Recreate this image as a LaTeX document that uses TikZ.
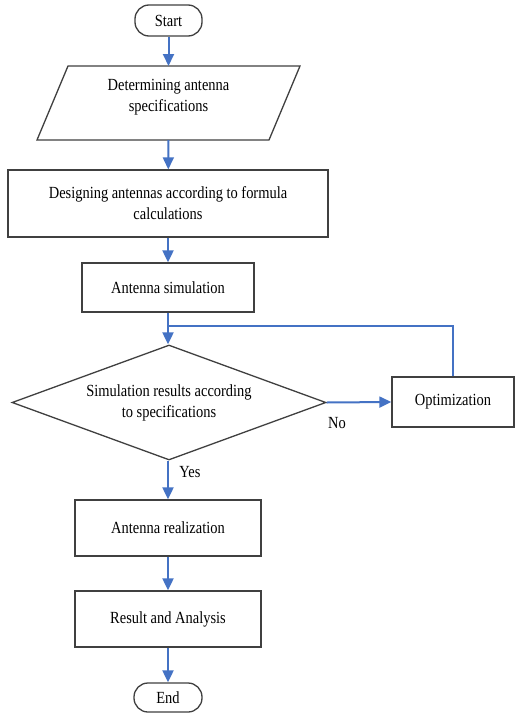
\documentclass[tikz,border=0pt]{standalone}
\usepackage{fontspec}
\setmainfont[FakeStretch=0.85]{Liberation Serif}
\usetikzlibrary{shapes.geometric,arrows.meta,positioning}
\definecolor{flowblue}{RGB}{68,114,196}
\definecolor{boxgray}{RGB}{64,64,64}
\begin{document}
\begin{tikzpicture}[x=1pt,y=-1pt,
  every node/.style={font=\fontsize{17}{21}\selectfont, text=black},
  procbox/.style={draw=boxgray, line width=1.3pt, rectangle, inner sep=0pt, align=center},
  termbox/.style={draw=boxgray, line width=1.3pt, rectangle, rounded corners=14pt, inner sep=0pt},
  flow/.style={draw=flowblue, line width=2pt, -{Triangle[length=12pt,width=11pt]}},
  flowline/.style={draw=flowblue, line width=2pt},
  lbl/.style={inner sep=0pt}
]
\useasboundingbox (0,0) rectangle (515,715);
\fill[white] (0,0) rectangle (515,715);

\node[termbox, minimum width=67pt, minimum height=31pt] (start) at (168.5,20.5) {Start};
\node[inner sep=0pt, minimum width=263pt, minimum height=74pt, align=center] (spec) at (168.5,97) {Determining antenna\\specifications};
\coordinate (specc) at (168.5,103);
\draw[boxgray, line width=1.3pt] (68,66) -- (300,66) -- (269,140) -- (37,140) -- cycle;
\coordinate (spectop) at (168.5,66);
\coordinate (specbot) at (168.5,140);
\node[procbox, minimum width=320pt, minimum height=67pt] (design) at (168,203.5) {Designing antennas according to formula\\calculations};
\node[procbox, minimum width=172pt, minimum height=49pt] (sim) at (168,287.5) {Antenna simulation};
\node[draw=boxgray, line width=1.3pt, diamond, aspect=2.73, minimum width=314pt, minimum height=115pt, inner sep=0pt, align=center] (dec) at (169,402.5) {Simulation results according\\to specifications};
\node[procbox, minimum width=122pt, minimum height=50pt] (opt) at (453,402) {Optimization};
\node[procbox, minimum width=186pt, minimum height=56pt] (real) at (168,528) {Antenna realization};
\node[procbox, minimum width=186pt, minimum height=56pt] (res) at (168,619) {Result and Analysis};
\node[termbox, minimum width=68pt, minimum height=29pt] (end) at (168,697.5) {End};

\coordinate (join) at (168,326);

\draw[flow] (start) -- (spectop);
\draw[flow] (specbot) -- (design);
\draw[flow] (design) -- (sim);
\draw[flow] (sim.south) -- (dec.north -| sim.south);
\draw[flowline] (opt.north) |- (join);
\draw[flow] (dec.east) -- (opt.west);
\draw[flow] (dec.south -| real.north) -- (real);
\draw[flow] (real) -- (res);
\draw[flow] (res) -- (end);

\node[lbl] (no) at (337,423) {No};
\node[lbl] (yes) at (190,472) {Yes};
\end{tikzpicture}
\end{document}
